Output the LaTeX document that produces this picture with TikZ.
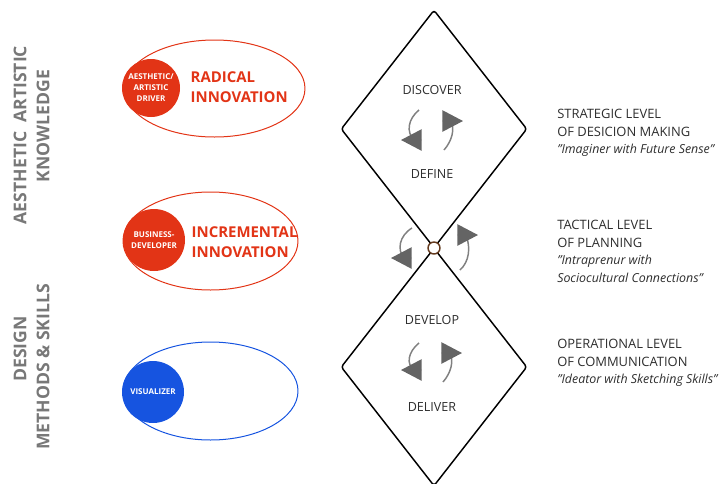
\documentclass[tikz,border=0pt]{standalone}
\usepackage{fontspec}
\setmainfont{Open Sans}
\setsansfont{Open Sans}
\usetikzlibrary{arrows.meta,positioning,shapes.geometric}
\definecolor{dkink}{RGB}{45,45,45}
\definecolor{sidegray}{RGB}{120,120,120}
\definecolor{innored}{RGB}{226,52,22}
\definecolor{visblue}{RGB}{22,84,224}
\definecolor{turnline}{RGB}{128,128,128}
\definecolor{turnhead}{RGB}{100,100,100}
\definecolor{knotbrown}{RGB}{100,58,30}
\newcommand{\quotefont}{\itshape\fontsize{9.3pt}{13.2pt}\selectfont}
\tikzset{
  phasebox/.style={
    diamond, draw=black, line width=1.1pt, rounded corners=2pt,
    inner sep=0pt, minimum width=139.5pt, minimum height=178.5pt
  },
  phase/.style={font=\fontsize{9.4pt}{11pt}\selectfont, text=dkink},
  knot/.style={circle, draw=knotbrown, fill=white, line width=1.1pt,
    inner sep=0pt, minimum size=9pt},
  ring/.style={ellipse, draw=#1, line width=0.75pt, inner sep=0pt},
  dot/.style={circle, fill=#1, inner sep=0pt, text=white, align=center,
    font=\bfseries\fontsize{6pt}{8.2pt}\selectfont},
  kind/.style={anchor=west, align=left, text=innored,
    font=\bfseries\fontsize{11.2pt}{15pt}\selectfont},
  side/.style={rotate=90, text=sidegray,
    font=\bfseries\fontsize{13.2pt}{15pt}\selectfont},
  level/.style={anchor=west, align=left, text=dkink, inner sep=0pt,
    font=\fontsize{9.7pt}{13.2pt}\selectfont},
  turn/.style={draw=turnline, line width=1.1pt,
    -{Triangle[length=15.5pt,width=16pt,color=turnhead]}},
  every picture/.append style={line join=round}
}
\begin{document}
\begin{tikzpicture}[x=0.75pt,y=-0.75pt]
  \useasboundingbox (0,0) rectangle (719,483);
  % left side headings
  \node[side] (aesth) at (20,135) {AESTHETIC\ \ ARTISTIC};
  \node[side] (know) at (43,126) {KNOWLEDGE};
  \node[side] (design) at (20,349) {DESIGN};
  \node[side] (method) at (43,367) {METHODS \& SKILLS};

  % roles
  \node[ring=innored, minimum width=135.75pt, minimum height=72.75pt] (radring) at (214.5,88.5) {};
  \node[dot=innored, minimum size=43.5pt] (artist) at (151,88) {AESTHETIC/\\ARTISTIC\\DRIVER};
  \node[kind] (radical) at (186,87) {RADICAL\\INNOVATION};

  \node[ring=innored, minimum width=131.25pt, minimum height=73.5pt] (incring) at (210.5,241) {};
  \node[dot=innored, minimum size=46.5pt] (busdev) at (154,240) {BUSINESS-\\DEVELOPER};
  \node[kind] (incremental) at (187,242) {INCREMENTAL\\INNOVATION};

  \node[ring=visblue, minimum width=131.25pt, minimum height=73.5pt] (visring) at (210.5,391) {};
  \node[dot=visblue, minimum size=46.5pt] (visual) at (153,392) {VISUALIZER};

  % double diamond
  \node[phasebox] (upper) at (434,129) {};
  \node[phasebox] (lower) at (434,367) {};
  \node[knot] (joint) at (434,248) {};
  \node[phase] (discover) at (432,90) {DISCOVER};
  \node[phase] (define) at (432,174) {DEFINE};
  \node[phase] (develop) at (432,320) {DEVELOP};
  \node[phase] (deliver) at (432,407) {DELIVER};

  % turning arrows
  \draw[turn] (419,110) .. controls (408,119) and (406,132) .. (414,140) -- (401,140);
  \draw[turn] (444,150) .. controls (452,141) and (455,129) .. (451,121) -- (463,121);
  \draw[turn] (412,228) .. controls (399,236) and (397,250) .. (404,258) -- (391,258);
  \draw[turn] (460,270) .. controls (469,262) and (471,248) .. (466,235) -- (478,235);
  \draw[turn] (419,343) .. controls (408,352) and (406,364) .. (414,370) -- (401,370);
  \draw[turn] (443,382) .. controls (451,373) and (454,361) .. (450,353) -- (462,353);

  % levels
  \node[level] (strategic) at (557,133) {STRATEGIC LEVEL\\OF DESICION MAKING\\{\quotefont ”Imaginer with Future Sense”}};
  \node[level] (tactical) at (557,251.5) {TACTICAL LEVEL\\OF PLANNING\\{\quotefont ”Intraprenur with}\\{\quotefont Sociocultural Connections”}};
  \node[level] (operational) at (557,363) {OPERATIONAL LEVEL\\OF COMMUNICATION\\{\quotefont ”Ideator with Sketching Skills”}};
\end{tikzpicture}
\end{document}
